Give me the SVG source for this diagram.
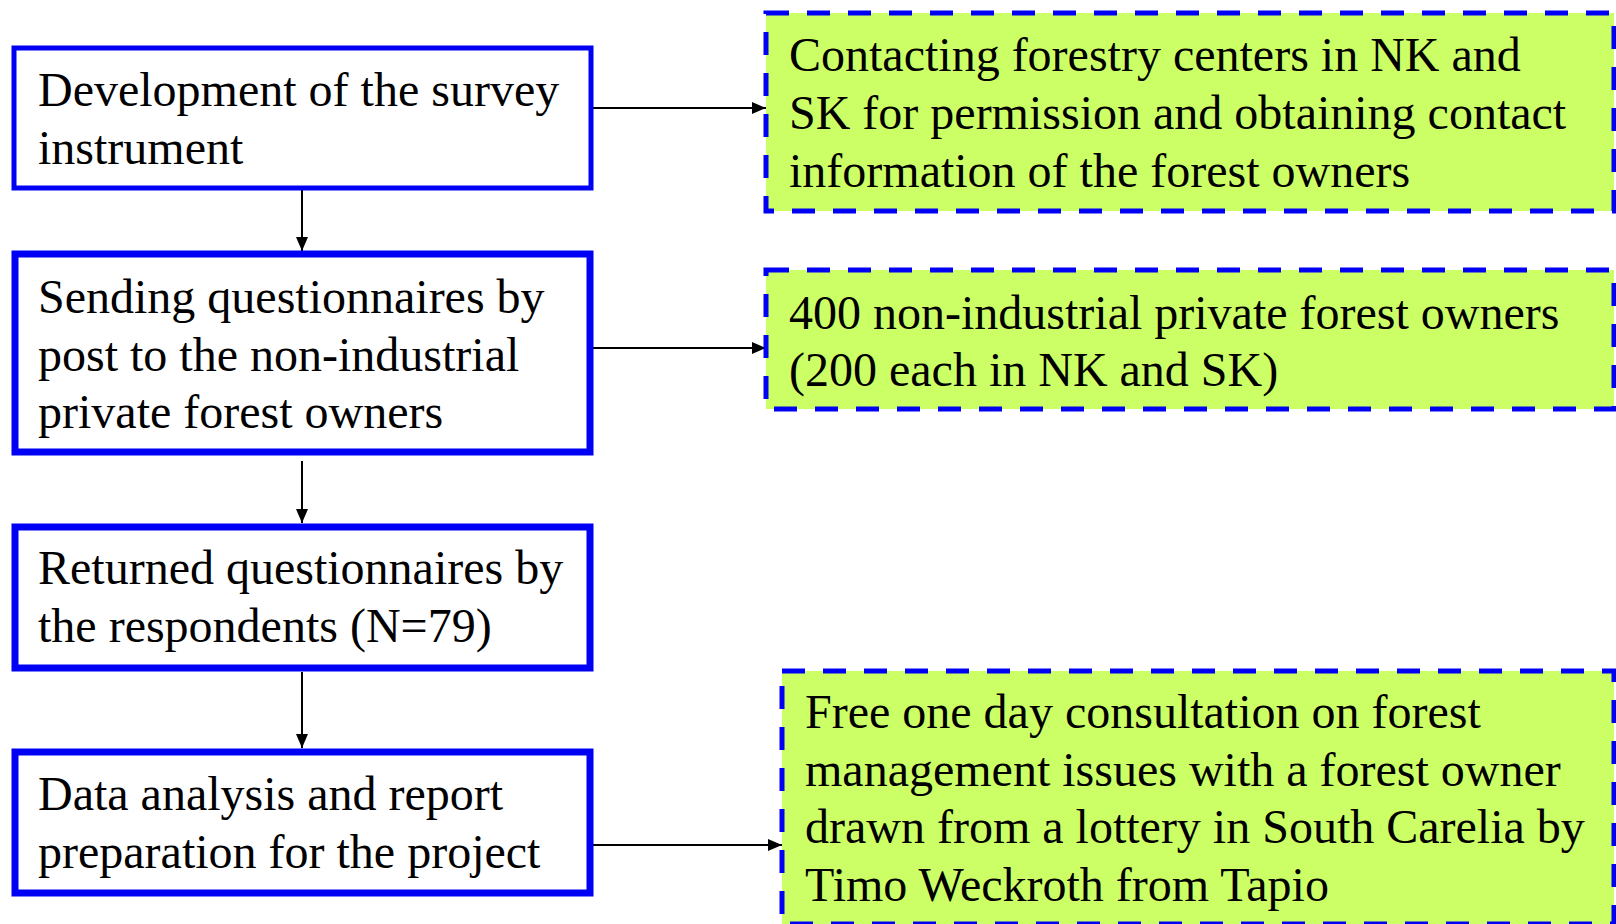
<svg xmlns="http://www.w3.org/2000/svg" width="1616" height="924" viewBox="0 0 1616 924">
<style>
.step{fill:#fff;stroke:#0000f5;}
.note{fill:#ccff66;stroke:#0000f5;stroke-width:5;stroke-dasharray:23 18;}
.t{font-family:"Liberation Serif","Times New Roman",serif;font-size:48px;fill:#000;}
.c{stroke:#000;stroke-width:2;fill:none;marker-end:url(#ah);}
</style>
<defs>
<marker id="ah" viewBox="0 0 14 12" refX="14" refY="6" markerWidth="14" markerHeight="12" markerUnits="userSpaceOnUse" orient="auto">
<path d="M0,0 L14,6 L0,12 Z" fill="#000"/>
</marker>
</defs>
<rect width="1616" height="924" fill="#fff"/>
<g id="connectors">
<line class="c" x1="302" y1="190" x2="302" y2="251"/>
<line class="c" x1="302" y1="461" x2="302" y2="523"/>
<line class="c" x1="302" y1="672" x2="302" y2="748"/>
<line class="c" x1="593" y1="108" x2="766" y2="108"/>
<line class="c" x1="593" y1="348" x2="766" y2="348"/>
<line class="c" x1="593" y1="845" x2="782" y2="845"/>
</g>
<g id="n1">
<rect class="step" x="14" y="48" width="577" height="140" stroke-width="5"/>
<text class="t" x="38" y="106">Development of the survey</text>
<text class="t" x="38" y="164">instrument</text>
</g>
<g id="n2">
<rect class="step" x="15" y="254" width="575" height="198" stroke-width="7"/>
<text class="t" x="38" y="313">Sending questionnaires by</text>
<text class="t" x="38" y="371">post to the non-industrial</text>
<text class="t" x="38" y="428">private forest owners</text>
</g>
<g id="n3">
<rect class="step" x="15" y="527" width="575" height="141" stroke-width="7"/>
<text class="t" x="38" y="584">Returned questionnaires by</text>
<text class="t" x="38" y="642">the respondents (N=79)</text>
</g>
<g id="n4">
<rect class="step" x="15" y="752" width="575" height="141" stroke-width="7"/>
<text class="t" x="38" y="810">Data analysis and report</text>
<text class="t" x="38" y="868">preparation for the project</text>
</g>
<g id="g1">
<rect class="note" x="766" y="13" width="848" height="198"/>
<text class="t" x="789" y="71">Contacting forestry centers in NK and</text>
<text class="t" x="789" y="129">SK for permission and obtaining contact</text>
<text class="t" x="789" y="187">information of the forest owners</text>
</g>
<g id="g2">
<rect class="note" x="766" y="270" width="848" height="139"/>
<text class="t" x="789" y="329">400 non-industrial private forest owners</text>
<text class="t" x="789" y="386">(200 each in NK and SK)</text>
</g>
<g id="g3">
<rect class="note" x="782" y="671" width="832" height="253"/>
<text class="t" x="805" y="728">Free one day consultation on forest</text>
<text class="t" x="805" y="786">management issues with a forest owner</text>
<text class="t" x="805" y="843">drawn from a lottery in South Carelia by</text>
<text class="t" x="805" y="901">Timo Weckroth from Tapio</text>
</g>
</svg>
